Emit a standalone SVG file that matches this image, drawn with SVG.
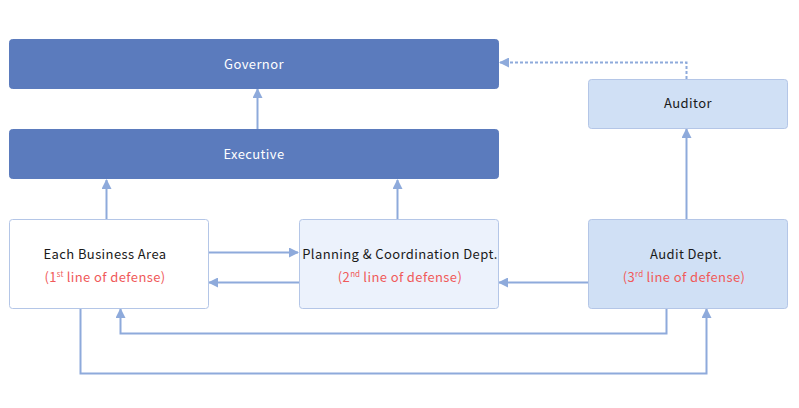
<svg xmlns="http://www.w3.org/2000/svg" width="799" height="408" viewBox="0 0 799 408">
<defs>
<marker id="ah" viewBox="0 0 10 10" refX="9" refY="5" markerWidth="10" markerHeight="10" markerUnits="userSpaceOnUse" orient="auto">
<path d="M0,0 L10,5 L0,10 z" fill="#8eaadb"/>
</marker>
</defs>
<style>
.dark{fill:#5b7bbd;stroke:#5b7bbd;stroke-width:1}
.lt{stroke:#b4c6e7;stroke-width:1}
.t{font-family:"Noto Sans CJK KR","Noto Sans",sans-serif;font-size:13px;text-anchor:middle;letter-spacing:0.4px}
.w{fill:#ffffff}
.k{fill:#1a1a1a}
.r{fill:#f05a5a}
.c{fill:none;stroke:#8eaadb;stroke-width:2;marker-end:url(#ah)}
.sup{font-size:8px;letter-spacing:0}
</style>
<rect width="799" height="408" fill="#ffffff"/>
<g id="connectors">
<path class="c" d="M257.5,129 V89"/>
<path class="c" d="M106.5,219 V180"/>
<path class="c" d="M397.5,219 V180"/>
<path class="c" d="M686.5,219 V129"/>
<path class="c" d="M686.5,79 V62.5 H500" stroke-dasharray="3,2"/>
<path class="c" d="M208,252.5 H298"/>
<path class="c" d="M299,282.5 H209"/>
<path class="c" d="M588,282.5 H499"/>
<path class="c" d="M666.5,308 V333.5 H120.5 V309"/>
<path class="c" d="M80.5,308 V373.5 H706.5 V309"/>
</g>
<g id="governor">
<rect class="dark" x="9.5" y="39.5" width="489" height="49" rx="3"/>
<text class="t w" x="254" y="69">Governor</text>
</g>
<g id="executive">
<rect class="dark" x="9.5" y="129.5" width="489" height="49" rx="3"/>
<text class="t w" x="254" y="159">Executive</text>
</g>
<g id="auditor">
<rect class="lt" x="588.5" y="79.5" width="199" height="49" rx="3" fill="#d0e0f5"/>
<text class="t k" x="688" y="108">Auditor</text>
</g>
<g id="business">
<rect class="lt" x="9.5" y="219.5" width="199" height="89" rx="3" fill="#ffffff"/>
<text class="t k" x="105" y="259">Each Business Area</text>
<text class="t r" x="105" y="282">(1<tspan class="sup" dy="-5">st</tspan><tspan dy="5"> line of defense)</tspan></text>
</g>
<g id="planning">
<rect class="lt" x="299.5" y="219.5" width="199" height="89" rx="3" fill="#ecf2fc"/>
<text class="t k" x="400" y="259">Planning &amp; Coordination Dept.</text>
<text class="t r" x="400" y="282">(2<tspan class="sup" dy="-5">nd</tspan><tspan dy="5"> line of defense)</tspan></text>
</g>
<g id="audit">
<rect class="lt" x="588.5" y="219.5" width="199" height="89" rx="3" fill="#d0e0f5"/>
<text class="t k" x="686" y="259">Audit Dept.</text>
<text class="t r" x="684" y="282">(3<tspan class="sup" dy="-5">rd</tspan><tspan dy="5"> line of defense)</tspan></text>
</g>
</svg>
